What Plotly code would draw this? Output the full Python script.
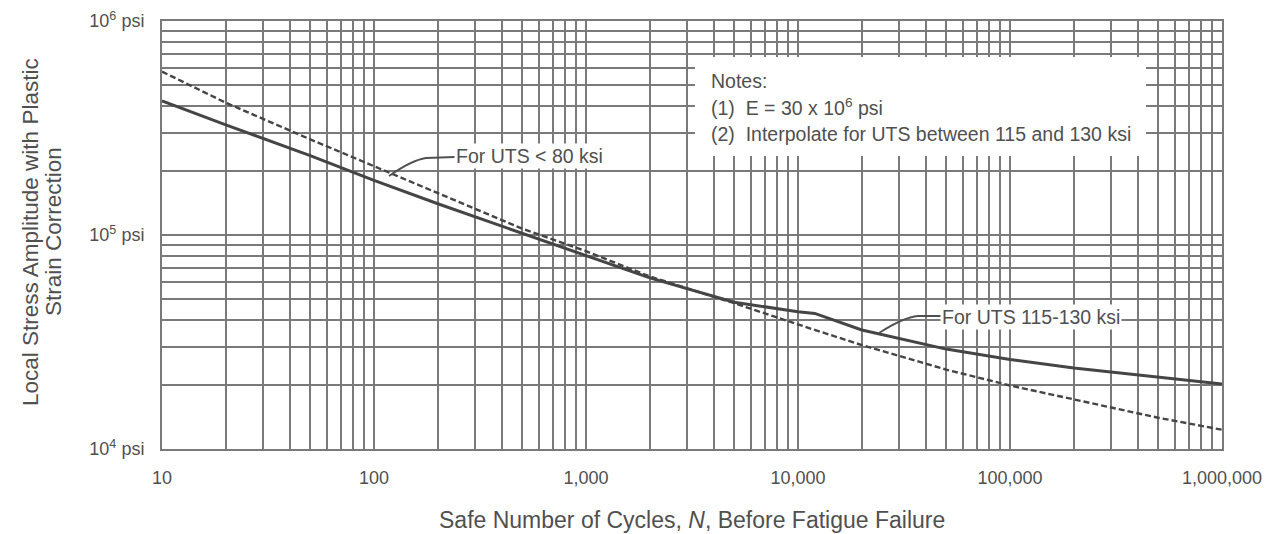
import plotly.graph_objects as go

# ---------------- data ----------------
N_CYCLES = [10, 20, 50, 100, 200, 500, 1000, 2000, 5000, 10000, 12000,
            20000, 50000, 100000, 200000, 500000, 1000000]
S_UTS_LT_80 = [580e3, 415e3, 280e3, 210e3, 157e3, 107e3, 84e3, 64e3, 48e3,
               38e3, 36e3, 30.6e3, 23.5e3, 19.8e3, 17.0e3, 14.0e3, 12.3e3]
S_UTS_115_130 = [423e3, 327e3, 235e3, 180e3, 140e3, 102e3, 80e3, 63e3, 48.5e3,
                 43.8e3, 43e3, 36e3, 29.3e3, 26.2e3, 23.9e3, 21.6e3, 20.1e3]

X_DECADES = [10, 100, 1000, 10000, 100000, 1000000]
X_DECADE_LABELS = ["10", "100", "1,000", "10,000", "100,000", "1,000,000"]
Y_DECADES = [1e4, 1e5, 1e6]
Y_DECADE_LABELS = ["10<sup>4</sup> psi", "10<sup>5</sup> psi", "10<sup>6</sup> psi"]
MINOR_MULTIPLIERS = [2, 3, 4, 5, 6, 7, 8, 9]

X_TITLE = "Safe Number of Cycles, <i>N</i>, Before Fatigue Failure"
Y_TITLE_LINES = ["Local Stress Amplitude with Plastic", "Strain Correction"]
NOTES = ["Notes:", "(1)  E = 30 x 10<sup>6</sup> psi",
         "(2)  Interpolate for UTS between 115 and 130 ksi"]
LABEL_LT_80 = "For UTS < 80 ksi"
LABEL_115_130 = "For UTS 115-130 ksi"

# ---------------- layout constants ----------------
W, H = 1265, 534
PL, PR, PT, PB = 162, 1222, 21, 449          # plot box in page pixels
L, T = PL, PT
PW, PH = PR - PL, PB - PT
R, B = W - L - PW, H - T - PH
FONT = "Liberation Sans, Arial, Helvetica, sans-serif"
TXT = "#505050"
GRID = "#7a7a7a"
CURVE = "#454545"


def pxx(px):
    return (px - PL) / PW


def pxy(py):
    return (PB - py) / PH


def grid_ticks(decades, labels):
    vals, texts = [], []
    for i, (d, lab) in enumerate(zip(decades, labels)):
        vals.append(d)
        texts.append(lab)
        if i < len(decades) - 1:
            for m in MINOR_MULTIPLIERS:
                vals.append(d * m)
                texts.append("")
    return vals, texts


xt_vals, xt_text = grid_ticks(X_DECADES, X_DECADE_LABELS)
yt_vals, yt_text = grid_ticks(Y_DECADES, Y_DECADE_LABELS)

fig = go.Figure()
fig.add_trace(go.Scatter(x=N_CYCLES, y=S_UTS_LT_80, mode="lines",
                         line=dict(color=CURVE, width=2.4, dash="6px,3px"),
                         name=LABEL_LT_80, hoverinfo="skip"))
fig.add_trace(go.Scatter(x=N_CYCLES, y=S_UTS_115_130, mode="lines",
                         line=dict(color=CURVE, width=3),
                         name=LABEL_115_130, hoverinfo="skip"))

fig.update_layout(
    width=W, height=H,
    margin=dict(l=L, r=R, t=T, b=B, pad=0, autoexpand=False),
    paper_bgcolor="white", plot_bgcolor="white",
    showlegend=False,
    font=dict(family=FONT, color=TXT, size=18),
)
fig.update_xaxes(type="log", range=[1, 6], tickmode="array",
                 tickvals=xt_vals, ticktext=xt_text, ticks="",
                 ticklabelstandoff=11,
                 showgrid=True, gridcolor=GRID, gridwidth=1.8,
                 showline=True, linecolor=GRID, linewidth=2, mirror=True,
                 zeroline=False, tickfont=dict(size=18, color=TXT))
fig.update_yaxes(type="log", range=[4, 6], tickmode="array",
                 tickvals=yt_vals, ticktext=yt_text, ticks="",
                 ticklabelstandoff=12,
                 showgrid=True, gridcolor=GRID, gridwidth=1.8,
                 showline=True, linecolor=GRID, linewidth=2, mirror=True,
                 zeroline=False, tickfont=dict(size=18, color=TXT))

# notes box (white panel masking grid)
fig.add_shape(type="rect", xref="paper", yref="paper",
              x0=pxx(695), x1=pxx(1146), y0=pxy(156), y1=pxy(57),
              fillcolor="white", line=dict(width=0), layer="above")

for txt, yy in zip(NOTES, [81, 107, 134]):
    fig.add_annotation(text=txt, xref="paper", yref="paper",
                       x=pxx(709), y=pxy(yy), xanchor="left", yanchor="middle",
                       showarrow=False, font=dict(size=19.5, color=TXT))

# leader lines
fig.add_shape(type="path", xref="paper", yref="paper",
              path=f"M {pxx(389)},{pxy(176)} Q {pxx(412)},{pxy(160)} {pxx(426)},{pxy(158)} L {pxx(455)},{pxy(157)}",
              line=dict(color=TXT, width=1.8), layer="above")
fig.add_shape(type="path", xref="paper", yref="paper",
              path=f"M {pxx(879)},{pxy(333)} Q {pxx(904)},{pxy(317)} {pxx(918)},{pxy(316)} L {pxx(941)},{pxy(316)}",
              line=dict(color=TXT, width=1.8), layer="above")

fig.add_annotation(text=LABEL_LT_80, xref="paper", yref="paper",
                   x=pxx(454), y=pxy(156), xanchor="left", yanchor="middle",
                   showarrow=False, bgcolor="white", borderpad=1,
                   font=dict(size=19.5, color=TXT))
fig.add_annotation(text=LABEL_115_130, xref="paper", yref="paper",
                   x=pxx(940), y=pxy(317), xanchor="left", yanchor="middle",
                   showarrow=False, bgcolor="white", borderpad=1,
                   font=dict(size=19.5, color=TXT))

# axis titles
fig.add_annotation(text=X_TITLE, xref="paper", yref="paper",
                   x=pxx(692), y=pxy(520), xanchor="center", yanchor="middle",
                   showarrow=False, font=dict(size=23, color=TXT))
for line_txt, xc in zip(Y_TITLE_LINES, [30, 53]):
    fig.add_annotation(text=line_txt, xref="paper", yref="paper",
                       x=pxx(xc), y=pxy(232), xanchor="center", yanchor="middle",
                       textangle=-90, showarrow=False,
                       font=dict(size=22.5, color=TXT))

# remove the default 8px page margin so the figure sits at the window's corner
fig.write_html("out.html",
               config={"displayModeBar": False},
               post_script="document.body.style.margin='0';"
                           "document.documentElement.style.overflow='hidden';")
